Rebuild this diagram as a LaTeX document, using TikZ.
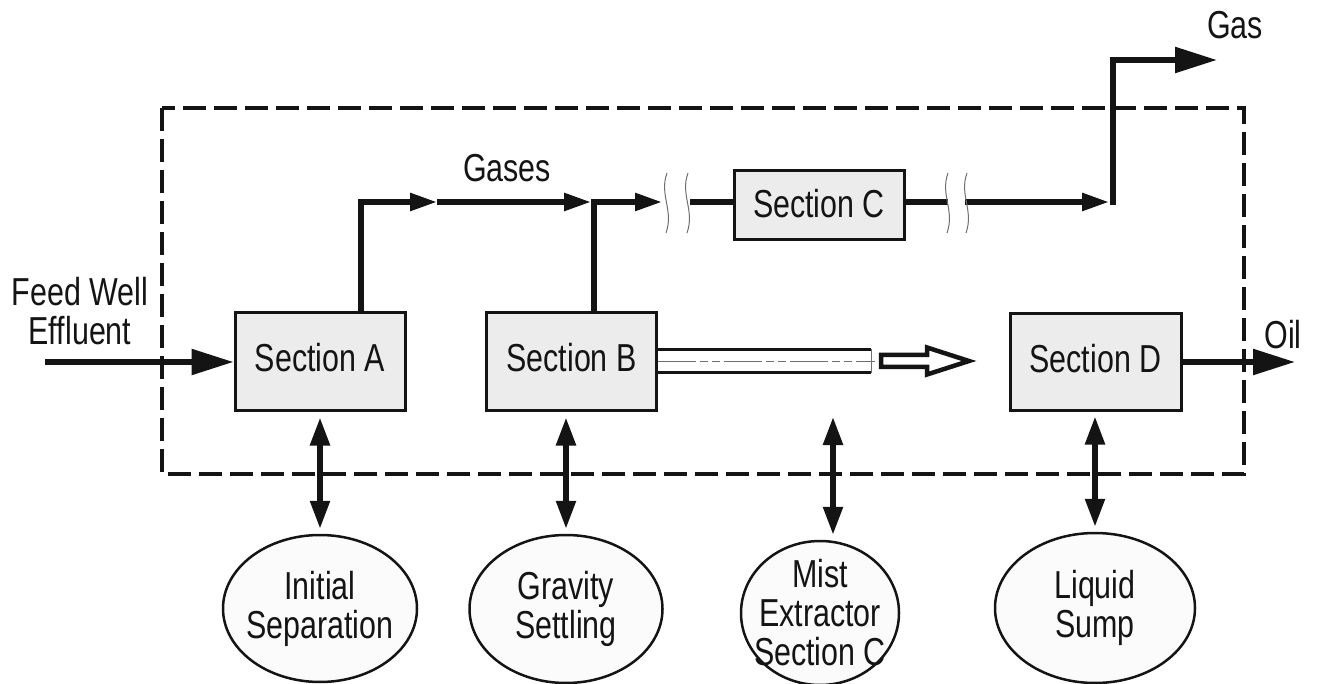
\documentclass[tikz,border=0pt]{standalone}
\usepackage{fontspec}
\setmainfont{Liberation Sans}[FakeStretch=0.78]
\usetikzlibrary{arrows.meta,shapes.geometric,calc}
\definecolor{ink}{RGB}{20,20,20}
\definecolor{boxfill}{RGB}{236,236,236}
\definecolor{ovalfill}{RGB}{251,251,251}
\definecolor{breakgray}{RGB}{110,110,110}
\begin{document}
\begin{tikzpicture}[x=1pt,y=-1pt,
  font=\fontsize{39}{39}\selectfont, text=ink,
  secbox/.style={draw=ink, line width=3pt, fill=boxfill, inner sep=0pt,
    text depth=8pt, minimum width=170pt, minimum height=97pt},
  oval/.style={ellipse, draw=ink, line width=2.5pt, fill=ovalfill, inner sep=0pt},
  ovaltext/.style={align=center, inner sep=0pt},
  label/.style={inner sep=0pt, align=center},
  flowline/.style={draw=ink, line width=5.5pt},
  smalltip/.style={-{Triangle[length=27pt,width=17pt]}},
  bigtip/.style={-{Triangle[length=42pt,width=25pt]}},
  twoway/.style={draw=ink, line width=5.5pt,
    {Triangle[length=28pt,width=19pt]}-{Triangle[length=28pt,width=19pt]}},
  breakline/.style={draw=breakgray, line width=1pt},
  boundary/.style={draw=ink, line width=4pt, dash pattern=on 23pt off 8pt}
]
\useasboundingbox (0,0) rectangle (1317,684);

% separator boundary
\draw[boundary] (162,108) rectangle (1244,474);

% section boxes
\node[secbox] (A) at (320,361.5) {Section A};
\node[secbox] (B) at (571.5,361.5) {Section B};
\node[secbox, minimum height=69pt, text depth=4pt] (C) at (819,205.5) {Section C};
\node[secbox, minimum width=171pt, minimum height=96pt] (D) at (1095.5,362) {Section D};

% functional zones
\node[oval, minimum width=194pt, minimum height=147pt] (IS) at (320,608.5) {};
\node[ovaltext] (IStext) at (IS.center) {Initial\\Separation};
\node[oval, minimum width=193pt, minimum height=148pt] (GS) at (566,609) {};
\node[ovaltext] (GStext) at (GS.center) {Gravity\\Settling};
\node[oval, minimum width=158pt, minimum height=144pt] (ME) at (820,613) {};
\node[ovaltext] (MEtext) at (ME.center) {Mist\\Extractor\\Section C};
\node[oval, minimum width=200pt, minimum height=150pt] (LS) at (1095,608) {};
\node[ovaltext] (LStext) at (LS.center) {Liquid\\Sump};

% stream labels
\node[label] (feedlbl) at (80,311) {Feed Well\\Effluent};
\node[label] (gaseslbl) at (507,168) {Gases};
\node[label] (gaslbl) at (1235,25) {Gas};
\node[label] (oillbl) at (1283,335) {Oil};

% routing points of the gas line
\coordinate (feedStart) at (45,362);
\coordinate (aUp) at ([xshift=41pt]A.north);
\coordinate (g1) at (437,202);
\coordinate (bUp) at ([xshift=22.5pt]B.north);
\coordinate (jB) at (594,202);
\coordinate (g2) at (662,202);
\coordinate (cIn) at (690,202);
\coordinate (cOut) at (948,202);
\coordinate (cRe) at (965,202);
\coordinate (rise) at (1113,202);
\coordinate (gasEnd) at (1217,60);
\coordinate (oilEnd) at (1295,362);
\coordinate (mistTop) at (833,417);

% feed and oil
\draw[flowline, bigtip] (feedStart) -- (feedStart -| A.west);
\draw[flowline, bigtip] (D.east |- oilEnd) -- (oilEnd);

% gas line
\draw[flowline, smalltip] (aUp) |- (g1);
\draw[flowline, smalltip, shorten >=3pt] (g1) -- (jB);
\draw[flowline, smalltip] (bUp) |- (g2);
\draw[flowline] (cIn) -- (C.west |- cIn);
\draw[flowline] (C.east |- cIn) -- (cOut);
\draw[flowline, smalltip, shorten >=4pt] (cRe) -- (rise);
\draw[flowline, bigtip, line cap=rect] (rise) |- (gasEnd);

% break marks on the gas line
\foreach \bx in {667,688,948,967}
  \draw[breakline] (\bx,173) .. controls (\bx-8,195) and (\bx+7,210) .. (\bx-1,233);

% liquid pipe from section B
\draw[draw=ink, line width=3pt] (656,349.5) -- (871,349.5);
\draw[draw=ink, line width=3pt] (656,373) -- (871,373);
\draw[breakline] (871,349.5) -- (871,373);
\draw[breakline, dash pattern=on 38pt off 4pt on 8pt off 4pt on 8pt off 4pt]
  (658,361.5) -- (875,361.5);

% hollow flow arrow toward section D
\draw[draw=ink, line width=4.5pt, fill=white, line join=miter]
  (881,355) -- (927,355) -- (927,347.5) -- (969,361) -- (927,374.5)
  -- (927,367) -- (881,367) -- cycle;

% links between sections and zones
\draw[twoway, shorten <=6pt, shorten >=5pt] (A.south) -- (A.south |- IS.north);
\draw[twoway, shorten <=6pt, shorten >=5pt] (B.south -| GS.north) -- (GS.north);
\draw[twoway, shorten >=5pt] (mistTop) -- (mistTop |- ME.north);
\draw[twoway, shorten <=5pt, shorten >=5pt] (D.south -| LS.north) -- (LS.north);
\end{tikzpicture}
\end{document}
